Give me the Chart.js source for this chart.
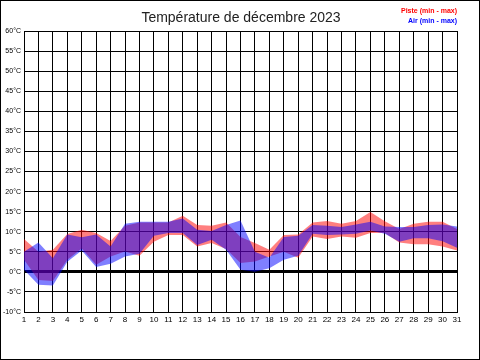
<!DOCTYPE html>
<html>
<head>
<meta charset="utf-8">
<script src="https://cdn.jsdelivr.net/npm/chart.js@4"></script>
<style>
  body { margin: 0; background: #fff; }
  #wrap { width: 480px; height: 360px; }
</style>
</head>
<body>
<div id="wrap"><canvas id="chart" width="480" height="360"></canvas></div>
<script>
// jours du mois
const days = [1,2,3,4,5,6,7,8,9,10,11,12,13,14,15,16,17,18,19,20,21,22,23,24,25,26,27,28,29,30,31];

// Piste (min - max)
const pisteMax = [8.2,5.0,5.5,9.4,10.5,9.7,7.7,11.5,12.3,12.3,12.3,14.0,11.7,11.5,12.3,8.7,7.2,5.5,9.2,9.3,12.3,12.7,12.0,12.7,14.9,12.6,10.7,12.0,12.5,12.5,10.7];
const pisteMin = [3.0,-2.0,-2.3,3.0,5.8,1.8,3.8,5.1,4.0,7.5,9.2,9.2,6.3,7.2,5.7,2.2,2.6,3.8,5.0,3.5,8.8,8.2,8.8,8.5,9.7,9.7,7.3,6.9,6.9,6.3,5.3];

// Air (min - max)
const airMax = [5.0,7.3,3.4,9.3,8.6,9.3,6.3,12.0,12.5,12.5,12.5,13.3,10.5,10.2,11.7,12.8,5.0,3.5,8.7,9.0,11.7,11.5,11.2,11.8,12.5,11.3,11.2,11.2,11.7,11.8,11.3];
const airMin = [0.5,-3.2,-3.4,2.5,5.3,1.2,2.0,3.8,4.5,9.0,9.7,9.7,6.7,8.0,5.5,0.5,0.0,0.9,3.0,4.0,9.5,9.2,9.3,9.5,10.3,9.5,7.5,8.4,8.4,7.6,6.0];

const yTicks = [-10,-5,0,5,10,15,20,25,30,35,40,45,50,55,60];

const toPts = arr => arr.map((v, i) => ({ x: days[i], y: v }));

// titre, légende et cadre dessinés sur le canvas
const decor = {
    id: 'decor',
    afterDraw(chart) {
        const c = chart.ctx;
        c.save();
        c.fillStyle = '#222';
        c.font = '14px "Liberation Sans", Arial, sans-serif';
        c.textAlign = 'center';
        c.textBaseline = 'alphabetic';
        c.fillText('Température de décembre 2023', 241, 22);

        c.font = 'bold 7px "Liberation Sans", Arial, sans-serif';
        c.textAlign = 'right';
        c.textBaseline = 'middle';
        c.fillStyle = '#ff0000';
        c.fillText('Piste (min - max)', 457, 11);
        c.fillStyle = '#0000ff';
        c.fillText('Air (min - max)', 457, 21);

        c.strokeStyle = '#000';
        c.lineWidth = 1;
        c.strokeRect(0.5, 0.5, 479, 359);
        c.restore();
    }
};

const ctx = document.getElementById('chart').getContext('2d');
new Chart(ctx, {
    type: 'line',
    data: {
        datasets: [
            { label: 'Air max', data: toPts(airMax), fill: '+1', backgroundColor: 'rgba(0,0,255,0.5)', borderWidth: 0, pointRadius: 0, tension: 0 },
            { label: 'Air min', data: toPts(airMin), fill: false, borderWidth: 0, pointRadius: 0, tension: 0 },
            { label: 'Piste max', data: toPts(pisteMax), fill: '+1', backgroundColor: 'rgba(255,0,0,0.5)', borderWidth: 0, pointRadius: 0, tension: 0 },
            { label: 'Piste min', data: toPts(pisteMin), fill: false, borderWidth: 0, pointRadius: 0, tension: 0 }
        ]
    },
    options: {
        responsive: false,
        animation: false,
        layout: { padding: { left: 0, top: 31, right: 23, bottom: 0 } },
        plugins: {
            legend: { display: false },
            tooltip: { enabled: false }
        },
        scales: {
            x: {
                type: 'linear',
                min: 1,
                max: 31,
                afterBuildTicks: s => { s.ticks = days.map(d => ({ value: d })); },
                afterFit: s => { s.height = 48; },
                grid: { color: '#000', lineWidth: 1, drawTicks: false },
                border: { color: '#000', width: 1 },
                ticks: {
                    color: '#000',
                    padding: 3,
                    maxRotation: 0,
                    autoSkip: false,
                    font: { family: '"Liberation Sans", Arial, sans-serif', size: 8 }
                }
            },
            y: {
                min: -10,
                max: 60,
                afterBuildTicks: s => { s.ticks = yTicks.map(v => ({ value: v })); },
                afterFit: s => { s.width = 24; },
                grid: {
                    color: '#000',
                    lineWidth: c => (c.tick && c.tick.value === 0 ? 3 : 1),
                    drawTicks: false
                },
                border: { color: '#000', width: 1 },
                ticks: {
                    color: '#000',
                    padding: 3,
                    callback: v => v + '°C',
                    font: { family: '"Liberation Sans", Arial, sans-serif', size: 7 }
                }
            }
        }
    },
    plugins: [decor]
});
</script>
</body>
</html>
